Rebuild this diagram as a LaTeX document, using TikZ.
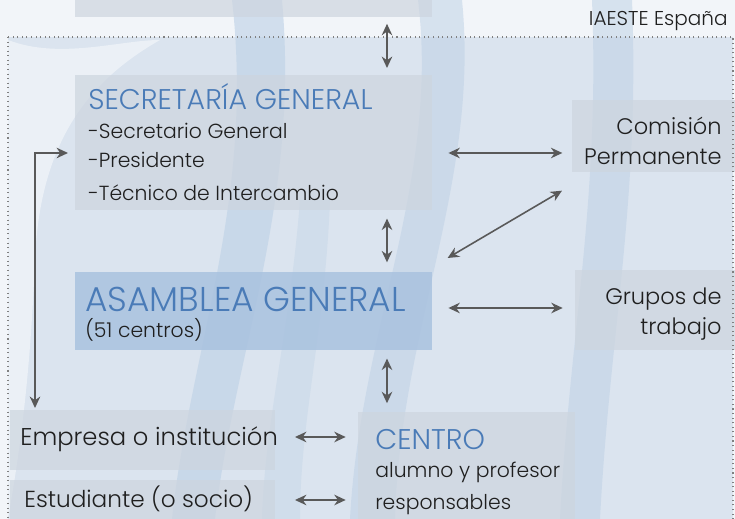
\documentclass[tikz,border=0pt]{standalone}
\usepackage{fontspec}
\setmainfont{Poppins}[UprightFont=* Light]
\usetikzlibrary{arrows.meta,positioning,calc}
\definecolor{fondo}{HTML}{DBE4EF}
\definecolor{claro}{HTML}{F2F5F9}
\definecolor{franja}{HTML}{BCD0E5}
\definecolor{azultit}{HTML}{4A7BB7}
\definecolor{flecha}{HTML}{595959}
\definecolor{cajagris}{HTML}{CDD5DF}
\definecolor{cajaazul}{HTML}{A9C2DF}
\tikzset{
	caja/.style={rectangle, fill=cajagris, fill opacity=0.7, inner sep=0pt, anchor=north west},
	cajaag/.style={rectangle, fill=cajaazul, fill opacity=0.85, inner sep=0pt, anchor=north west},
	titulo/.style={text=azultit, font=\fontsize{16.2}{19}\selectfont, anchor=base west, inner sep=0pt},
	grande/.style={text=azultit, font=\fontsize{19.6}{23}\selectfont, anchor=base west, inner sep=0pt},
	texto/.style={text=black!88, font=\fontsize{11.6}{14}\selectfont, anchor=base west, inner sep=0pt},
	textod/.style={texto, anchor=base east, font=\fontsize{12.8}{15}\selectfont},
	textoe/.style={texto, font=\fontsize{13.2}{15}\selectfont},
	flechas/.style={{Stealth[length=6.5pt,width=6pt]}-{Stealth[length=6.5pt,width=6pt]}, draw=flecha, line width=0.9pt}
}

\begin{document}
\begin{tikzpicture}[x=0.02cm, y=-0.02cm]
	\useasboundingbox (0,0) rectangle (735,519);
	\clip (0,0) rectangle (735,519);
	% fondo
	\fill[claro] (0,0) rectangle (735,519);
	\fill[fondo] (8,37) rectangle (733,530);
	\fill[franja, opacity=0.6] (232,0) .. controls (255,200) and (190,350) .. (172,519) -- (215,519) .. controls (235,350) and (300,200) .. (282,0) -- cycle;
	\fill[franja, opacity=0.5] (418,0) .. controls (440,180) and (360,330) .. (350,519) -- (395,519) .. controls (400,330) and (480,180) .. (462,0) -- cycle;
	\fill[franja, opacity=0.5] (592,0) .. controls (600,200) and (570,330) .. (560,519) -- (600,519) .. controls (610,330) and (640,200) .. (632,0) -- cycle;
	\fill[franja, opacity=0.35] (300,200) .. controls (290,330) and (265,420) .. (262,519) -- (300,519) .. controls (300,420) and (325,330) .. (330,200) -- cycle;
	\fill[white, opacity=0.45] (8,40) .. controls (60,60) and (120,40) .. (160,40) .. controls (90,80) and (40,140) .. (35,260) .. controls (30,380) and (20,450) .. (8,519) -- cycle;

	% cajas
	\node[caja, minimum width=7.14cm, minimum height=0.34cm] (topbox) at (75,0) {};
	\node[caja, minimum width=7.14cm, minimum height=2.7cm] (sgbox) at (75,75) {};
	\node[caja, minimum width=3.3cm, minimum height=1.44cm] (combox) at (572,100) {};
	\node[cajaag, minimum width=7.14cm, minimum height=1.56cm] (agbox) at (75,272) {};
	\node[caja, minimum width=3.2cm, minimum height=1.6cm] (grubox) at (575,270) {};
	\node[caja, minimum width=5.3cm, minimum height=1.2cm] (empbox) at (10,410) {};
	\node[caja, minimum width=5.3cm, minimum height=0.9cm] (estbox) at (10,480) {};
	\node[caja, minimum width=4.34cm, minimum height=2.3cm] (cenbox) at (358,412) {};
	\draw[dotted, gray, line width=0.6pt] (8,37) rectangle (733,530);

	% textos
	\node[textod, font=\fontsize{11.4}{13}\selectfont] (iaeste) at (728,26) {IAESTE España};
	\node[titulo] (sgtit) at (88,110) {SECRETARÍA GENERAL};
	\node[texto] (sg1) at (88,139) {-Secretario General};
	\node[texto] (sg2) at (88,168) {-Presidente};
	\node[texto] (sg3) at (88,201) {-Técnico de Intercambio};
	\node[textod] (com1) at (722,135) {Comisión};
	\node[textod] (com2) at (722,165) {Permanente};
	\node[grande] (agtit) at (85,312) {ASAMBLEA GENERAL};
	\node[texto] (ag1) at (85,338) {(51 centros)};
	\node[textod] (gru1) at (722,305) {Grupos de};
	\node[textod] (gru2) at (722,335) {trabajo};
	\node[textoe, font=\fontsize{13.8}{16}\selectfont] (empresa) at (20,446) {Empresa o institución};
	\node[textoe] (estudiante) at (24,508) {Estudiante (o socio)};
	\node[titulo] (centit) at (375,450) {CENTRO};
	\node[texto] (cen1) at (375,478) {alumno y profesor};
	\node[texto] (cen2) at (375,510) {responsables};

	% flechas
	\coordinate (eje) at (387,0);
	\coordinate (fila1) at (0,153);
	\coordinate (fila2) at (0,308);
	\coordinate (fila3) at (0,437);
	\coordinate (fila4) at (0,500);
	\coordinate (codo) at (35,153);
	\draw[flechas, shorten <=3.5pt, shorten >=4pt] (topbox.south -| eje) -- (sgbox.north -| eje);
	\draw[flechas, shorten <=4.5pt, shorten >=5.5pt] (sgbox.south -| eje) -- (agbox.north -| eje);
	\draw[flechas, shorten <=4.5pt, shorten >=5pt] (agbox.south -| eje) -- (cenbox.north -| eje);
	\draw[flechas, shorten <=9pt, shorten >=5.5pt] (sgbox.east |- fila1) -- (combox.west |- fila1);
	\draw[flechas, shorten <=9pt, shorten >=7pt] (agbox.east |- fila2) -- (grubox.west |- fila2);
	\draw[flechas] ($(agbox.north east)+(15,-14)$) -- ($(combox.south west)+(-10,18)$);
	\draw[flechas, shorten <=11pt, shorten >=7pt] (empbox.east |- fila3) -- (cenbox.west |- fila3);
	\draw[flechas, shorten <=11pt, shorten >=7pt] (empbox.east |- fila4) -- (cenbox.west |- fila4);
	\draw[flechas] ($(sgbox.west |- codo)+(-7,0)$) -- (codo) -- ($(codo |- empbox.north)+(0,-2)$);
\end{tikzpicture}
\end{document}
